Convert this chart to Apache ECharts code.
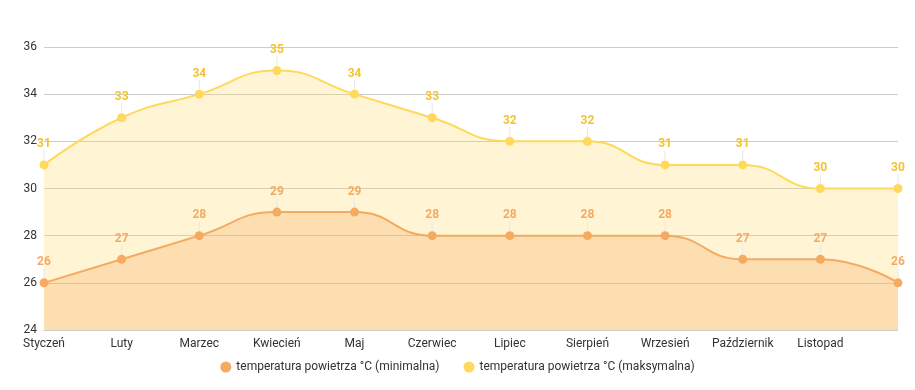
<!DOCTYPE html>
<html><head><meta charset="utf-8">
<script src="https://cdn.jsdelivr.net/npm/echarts@6/dist/echarts.min.js"></script>
<style>html,body{margin:0;padding:0;background:#fff}#c{width:915px;height:390px}</style>
</head><body><div id="c"></div>
<script>
const months = ['Styczeń','Luty','Marzec','Kwiecień','Maj','Czerwiec','Lipiec','Sierpień','Wrzesień','Październik','Listopad','Grudzień'];
const tempMin = [26,27,28,29,29,28,28,28,28,27,27,26];
const tempMax = [31,33,34,35,34,33,32,32,31,31,30,30];
const nameMin = 'temperatura powietrza °C (minimalna)';
const nameMax = 'temperatura powietrza °C (maksymalna)';

const chart = echarts.init(document.getElementById('c'));
function mk(name, data, color, labelColor, areaColor, z){
  return {
    name, type:'line', data, smooth:0.5, z,
    symbol:'circle', symbolSize:9,
    itemStyle:{color},
    lineStyle:{color, width:2},
    areaStyle:{color:areaColor, opacity:1, origin:'start'},
    label:{show:true, position:'top', distance:4, color:labelColor, fontWeight:'bold', fontSize:12, fontFamily:'Roboto'},
    labelLayout:{dy:-6},
    labelLine:{show:true, lineStyle:{color:'#e8e8e8', width:1}},
    emphasis:{disabled:true}
  };
}
chart.setOption({
  animation:false,
  textStyle:{fontFamily:'Roboto'},
  grid:{left:44, right:17, top:47, bottom:60, containLabel:false, outerBoundsMode:'none'},
  legend:{bottom:12, left:'center', icon:'circle', itemWidth:11, itemHeight:11, itemGap:24,
    textStyle:{color:'#333', fontSize:12, fontFamily:'Roboto'}, data:[nameMin,nameMax]},
  xAxis:{type:'category', data:months, boundaryGap:false,
    axisLine:{lineStyle:{color:'#ccc'}}, axisTick:{show:false},
    axisLabel:{color:'#333', fontSize:12, margin:8, interval:function(i){return i < months.length-1;}}},
  yAxis:{type:'value', min:24, max:36, interval:2,
    axisLine:{show:false}, axisTick:{show:false},
    axisLabel:{color:'#333', fontSize:12, margin:7},
    splitLine:{lineStyle:{color:'#ccc'}}},
  series:[
    mk(nameMin, tempMin, '#F5AA62', '#F5AA62', 'rgba(245,170,98,0.32)', 3),
    mk(nameMax, tempMax, '#FFD95C', '#F2C332', 'rgba(255,217,92,0.26)', 2)
  ]
});
</script></body></html>
